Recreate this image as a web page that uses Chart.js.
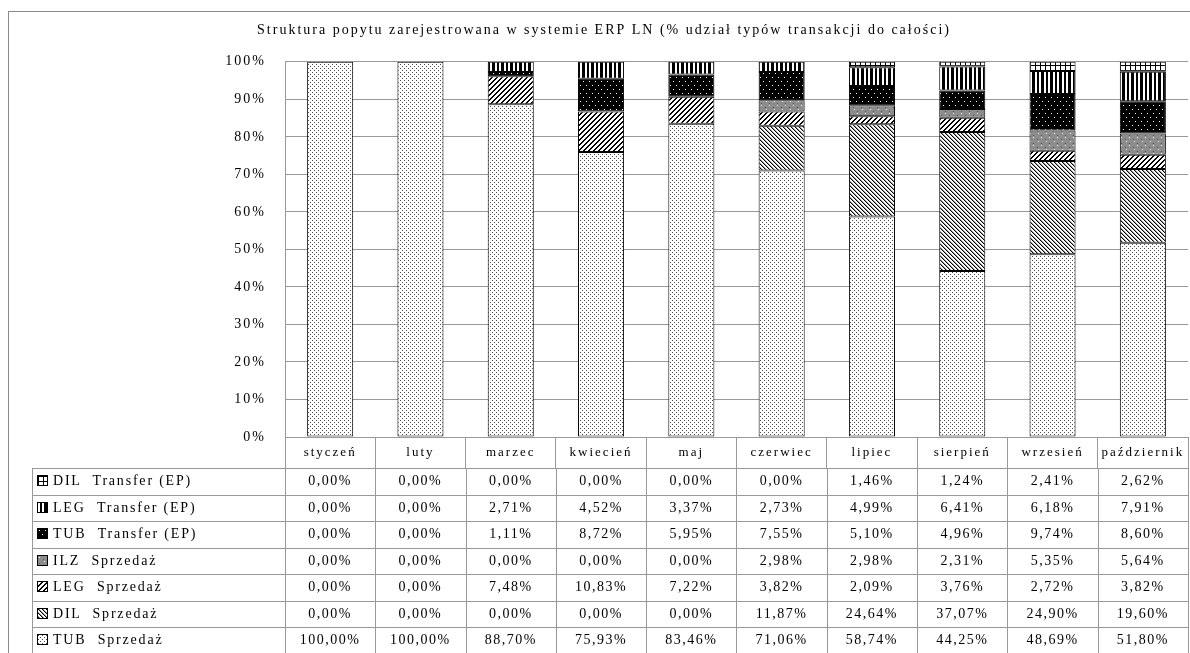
<!DOCTYPE html>
<html lang="pl">
<head>
<meta charset="utf-8">
<title>Struktura popytu</title>
<script src="https://cdn.jsdelivr.net/npm/chart.js@4"></script>
<style>
  html, body { margin: 0; padding: 0; background: #fff; }
  #wrap { position: relative; width: 1190px; height: 653px; overflow: hidden; }
  #frame { position: absolute; left: 8px; top: 11px; width: 1300px; height: 800px;
           border-top: 1px solid #8a8a8a; border-left: 1px solid #8a8a8a; box-sizing: border-box; }
  canvas { position: absolute; left: 0; top: 0; }
  .cell { position: absolute; box-sizing: border-box; font: 14px "Liberation Serif", serif;
          letter-spacing: 1.5px; color: #000; text-align: center; white-space: nowrap;
          border-right: 1px solid #999; border-bottom: 1px solid #999; }
  .lab { text-align: left; padding-left: 5px; letter-spacing: 1.8px; }
  .lead { margin-right: 6px; }
  .icon { display: inline-block; width: 11px; height: 11px; border: 1px solid #000;
          box-sizing: border-box; vertical-align: -1px; margin-right: 5px; }
</style>
</head>
<body>
<div id="wrap">
  <div id="frame"></div>
  <canvas id="c" width="1190" height="653"></canvas>
  <div id="table"></div>
</div>
<script>
// Months shown on the category axis
const months = ['styczeń', 'luty', 'marzec', 'kwiecień', 'maj', 'czerwiec',
                'lipiec', 'sierpień', 'wrzesień', 'październik'];

// Share of each transaction type per month, in percent
const tubSprzedaz = [100.00, 100.00, 88.70, 75.93, 83.46, 71.06, 58.74, 44.25, 48.69, 51.80];
const dilSprzedaz = [0.00, 0.00, 0.00, 0.00, 0.00, 11.87, 24.64, 37.07, 24.90, 19.60];
const legSprzedaz = [0.00, 0.00, 7.48, 10.83, 7.22, 3.82, 2.09, 3.76, 2.72, 3.82];
const ilzSprzedaz = [0.00, 0.00, 0.00, 0.00, 0.00, 2.98, 2.98, 2.31, 5.35, 5.64];
const tubTransfer = [0.00, 0.00, 1.11, 8.72, 5.95, 7.55, 5.10, 4.96, 9.74, 8.60];
const legTransfer = [0.00, 0.00, 2.71, 4.52, 3.37, 2.73, 4.99, 6.41, 6.18, 7.91];
const dilTransfer = [0.00, 0.00, 0.00, 0.00, 0.00, 0.00, 1.46, 1.24, 2.41, 2.62];

// Series names, listed from the bottom of the stack upwards
const seriesNames = ['TUB Sprzedaż', 'DIL Sprzedaż', 'LEG Sprzedaż', 'ILZ Sprzedaż',
                     'TUB Transfer (EP)', 'LEG Transfer (EP)', 'DIL Transfer (EP)'];
const seriesValues = [tubSprzedaz, dilSprzedaz, legSprzedaz, ilzSprzedaz,
                      tubTransfer, legTransfer, dilTransfer];

// Value axis range
const yMin = 0, yMax = 100, yStep = 10;

const titleText = 'Struktura popytu zarejestrowana w systemie ERP LN (% udział typów transakcji do całości)';

// Monochrome fill tiles, one per series (same order as seriesNames)
const tilePalette = { '.': '#ffffff', '#': '#000000', 'd': '#4a4a4a', 'g': '#8c8c8c', '+': '#9a9a9a' };
const tiles = [
  // fine stipple
  ['d...', '....', '..d.', '....'],
  // dense back-diagonal
  ['#+..', '.#+.', '..#+', '+..#'],
  // wide forward-diagonal
  ['...##', '..##.', '.##..', '##...', '#...#'],
  // grey with light dots
  ['gggggggg', 'g.gggggg', 'gggggggg', 'gggggdgg', 'gggggggg', 'gggggg.g', 'gggggggg', 'gdgggggg'],
  // black with white dots
  ['######', '#.####', '######', '######', '######', '####.#', '######', '######'],
  // vertical stripes
  ['..##..###'],
  // square grid
  ['#####', '#....', '#....', '#....', '#....']
];

function makeTile(rows) {
  const cv = document.createElement('canvas');
  cv.width = rows[0].length;
  cv.height = rows.length;
  const g = cv.getContext('2d');
  rows.forEach((r, y) => [...r].forEach((ch, x) => {
    g.fillStyle = tilePalette[ch];
    g.fillRect(x, y, 1, 1);
  }));
  return cv;
}

const ctx = document.getElementById('c').getContext('2d');
const tileCanvases = tiles.map(makeTile);
const patterns = tileCanvases.map(t => ctx.createPattern(t, 'repeat'));

Chart.defaults.font.family = '"Liberation Serif", serif';
Chart.defaults.font.size = 13;
Chart.defaults.color = '#000';

// Spaced-out lettering for all canvas text
const spacing = {
  id: 'spacing',
  beforeUpdate(chart) { chart.ctx.letterSpacing = '2px'; },
  beforeDraw(chart) { chart.ctx.letterSpacing = '2px'; }
};

const chart = new Chart(ctx, {
  type: 'bar',
  data: {
    labels: months,
    datasets: seriesValues.map((vals, i) => ({
      label: seriesNames[i],
      data: vals.map(v => (v === 0 ? null : v)),
      backgroundColor: patterns[i],
      borderColor: '#000',
      borderWidth: 1,
      borderSkipped: false,
      barPercentage: 0.51,
      categoryPercentage: 1.0
    }))
  },
  options: {
    responsive: false,
    animation: false,
    layout: { padding: { left: 20, right: 2, top: 0, bottom: 185 } },
    plugins: {
      legend: { display: false },
      tooltip: { enabled: false },
      title: {
        display: true,
        text: titleText,
        font: { size: 14, weight: 'normal' },
        padding: { top: 22, bottom: 23 }
      }
    },
    scales: {
      x: {
        stacked: true,
        grid: { offset: true, drawOnChartArea: false, drawTicks: true, tickLength: 31,
                color: '#999', lineWidth: 1 },
        border: { display: true, color: '#999' },
        ticks: { padding: -23, maxRotation: 0, autoSkip: false },
        afterFit(scale) { scale.height = 31; }
      },
      y: {
        stacked: true,
        min: yMin, max: yMax,
        grid: { color: '#999', lineWidth: 1, drawTicks: false },
        border: { display: true, color: '#999' },
        ticks: { stepSize: yStep, padding: 19, font: { size: 14 }, callback: v => v + '%' },
        afterFit(scale) { scale.width = 265; }
      }
    }
  },
  plugins: [spacing]
});

// Data table under the plot, aligned to the category columns
(function buildTable() {
  const xs = chart.scales.x;
  const step = xs.getPixelForValue(1) - xs.getPixelForValue(0);
  const edges = months.map((m, i) => xs.getPixelForValue(i) - step / 2);
  edges.push(xs.getPixelForValue(months.length - 1) + step / 2);
  const tableLeft = 32;
  const top0 = chart.chartArea.bottom + 31;
  const rowH = 26.5;
  const host = document.getElementById('table');

  const frame = document.createElement('div');
  frame.style.cssText = `position:absolute;left:${tableLeft}px;top:${top0}px;width:${edges[edges.length-1]-tableLeft}px;height:${rowH*7+10}px;border-top:1px solid #999;border-left:1px solid #999;box-sizing:border-box;`;
  host.appendChild(frame);

  const order = seriesNames.map((n, i) => i).reverse();
  order.forEach((si, r) => {
    const y = top0 + r * rowH;
    const lab = document.createElement('div');
    lab.className = 'cell lab';
    lab.style.cssText += `left:${tableLeft}px;top:${y}px;width:${edges[0]-tableLeft+1}px;height:${rowH+1}px;line-height:${rowH}px;`;
    const icon = document.createElement('span');
    icon.className = 'icon';
    icon.style.backgroundImage = `url(${tileCanvases[si].toDataURL()})`;
    lab.appendChild(icon);
    // series code, then the transaction type
    const words = seriesNames[si].split(' ');
    const lead = document.createElement('span');
    lead.className = 'lead';
    lead.textContent = words[0] + ' ';
    lab.appendChild(lead);
    lab.appendChild(document.createTextNode(words.slice(1).join(' ')));
    host.appendChild(lab);

    seriesValues[si].forEach((v, ci) => {
      const c = document.createElement('div');
      c.className = 'cell';
      c.style.cssText += `left:${edges[ci]}px;top:${y}px;width:${edges[ci+1]-edges[ci]+1}px;height:${rowH+1}px;line-height:${rowH}px;`;
      c.textContent = v.toFixed(2).replace('.', ',') + '%';
      host.appendChild(c);
    });
  });
})();
</script>
</body>
</html>
